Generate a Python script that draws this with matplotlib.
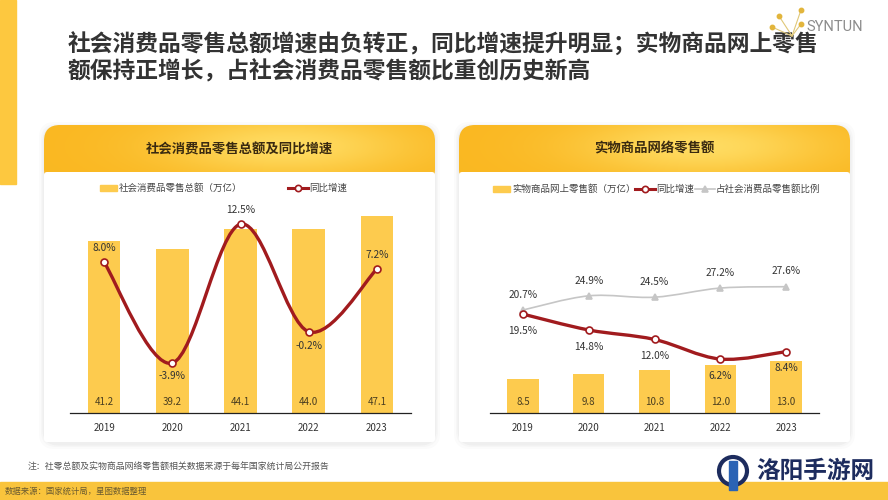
"""
plot.py — retail sales overview: two cards, bars + smoothed growth lines.
Everything on the page is laid out in pixel units on a background axes,
the two charts sit in their own axes on top.
"""

import numpy as np
import matplotlib.pyplot as plt
from matplotlib.patches import FancyBboxPatch, Rectangle, Circle, PathPatch
from matplotlib.path import Path
from matplotlib.lines import Line2D

plt.rcParams['font.family'] = ['Noto Sans CJK SC', 'DejaVu Sans']

# --- data -------------------------------------------------------------------
years = ['2019', '2020', '2021', '2022', '2023']

retail_total = [41.2, 39.2, 44.1, 44.0, 47.1]      # 万亿
retail_growth = [8.0, -3.9, 12.5, -0.2, 7.2]        # %

online_sales = [8.5, 9.8, 10.8, 12.0, 13.0]         # 万亿
online_growth = [19.5, 14.8, 12.0, 6.2, 8.4]        # %
online_share = [20.7, 24.9, 24.5, 27.2, 27.6]       # %

title_lines = ['社会消费品零售总额增速由负转正，同比增速提升明显；实物商品网上零售',
               '额保持正增长，占社会消费品零售额比重创历史新高']
left_title = '社会消费品零售总额及同比增速'
right_title = '实物商品网络零售额'
note = '注：社零总额及实物商品网络零售额相关数据来源于每年国家统计局公开报告'
source = '数据来源：国家统计局，星图数据整理'

# --- colours ----------------------------------------------------------------
BAR = '#FDCB4E'
RED = '#A11B1E'
GREY = '#C6C6C6'
TEXT = '#333333'

W, H = 888, 500
fig = plt.figure(figsize=(W / 100, H / 100), dpi=100)
fig.patch.set_facecolor('white')

bg = fig.add_axes([0, 0, 1, 1])
bg.set_xlim(0, W)
bg.set_ylim(H, 0)
bg.axis('off')


def px_axes(x0, y0, x1, y1):
    """Axes placed by pixel box (y measured from the top)."""
    a = fig.add_axes([x0 / W, 1 - y1 / H, (x1 - x0) / W, (y1 - y0) / H])
    a.patch.set_alpha(0)
    return a


def smooth_path(xs, ys, k=1 / 6):
    """Cubic bezier through the points (Catmull-Rom style control points)."""
    n = len(xs)
    verts = [(xs[0], ys[0])]
    codes = [Path.MOVETO]
    for i in range(n - 1):
        a = i - 1 if i > 0 else i
        b = i + 2 if i + 2 < n else i + 1
        c1 = (xs[i] + (xs[i + 1] - xs[a]) * k, ys[i] + (ys[i + 1] - ys[a]) * k)
        c2 = (xs[i + 1] - (xs[b] - xs[i]) * k, ys[i + 1] - (ys[b] - ys[i]) * k)
        verts += [c1, c2, (xs[i + 1], ys[i + 1])]
        codes += [Path.CURVE4] * 3
    return Path(verts, codes)


# ── page decoration ─────────────────────────────────────────────────────────
bg.add_patch(Rectangle((0, 0), 16, 184, color='#FDC83F', zorder=1))

for i, line in enumerate(title_lines):
    bg.text(68, 45 + i * 27, line, fontsize=16.4, fontweight='bold',
            color=TEXT, va='center', ha='left', zorder=3)

# SYNTUN mark
for (x0, y0) in [(779, 16), (801, 10), (801, 24), (772, 27)]:
    bg.plot([x0, 792], [y0, 36], color='#E0C878', lw=0.8, zorder=4)
    bg.plot(x0, y0, 'o', ms=3.2, color='#E2B53C', zorder=5)
bg.text(806, 27, 'SYNTUN', fontsize=10.5, color='#8C8C8C', va='center',
        ha='left', family=['Roboto', 'DejaVu Sans'], zorder=5)

# bottom note + source band
bg.text(28, 467, note, fontsize=6.4, color='#555555', va='center', style='italic')
bg.add_patch(Rectangle((0, 482), W, 18, color='#F9C43C', zorder=1))
bg.text(5, 491, source, fontsize=6, color='#6A5A30', va='center', zorder=2)

# watermark bottom right
bg.add_patch(Circle((733, 471), 14, fill=False, ec='#1D2C5E', lw=3, zorder=6))
bg.add_patch(Rectangle((729, 461), 8, 29, color='#2A63B5', zorder=6))
bg.text(756, 471, '洛阳手游网', fontsize=17, fontweight='bold', color='#1D2C5E',
        va='center', ha='left', zorder=6)


# ── cards ───────────────────────────────────────────────────────────────────
yy, xx = np.mgrid[0:1:60j, 0:1:200j]
glow = np.exp(-((xx - 0.62) ** 2) / 0.10 - ((yy - 0.35) ** 2) / 0.25)
light = np.array([1.0, 0.86, 0.38])
dark = np.array([0.98, 0.72, 0.13])
grad = dark + (light - dark) * glow[..., None]


def card(x0, x1, title):
    y0, y1, yh = 125, 442, 172
    w = x1 - x0
    # soft shadow
    for pad, al in [(5, 0.04), (3, 0.05), (1.5, 0.07)]:
        bg.add_patch(FancyBboxPatch((x0 - pad, y0 - pad + 2), w + 2 * pad,
                                    y1 - y0 + 2 * pad,
                                    boxstyle='round,pad=0,rounding_size=16',
                                    fc='#9A9A9A', ec='none', alpha=al, zorder=1))
    head = FancyBboxPatch((x0, y0), w, 60, boxstyle='round,pad=0,rounding_size=16',
                          fc='none', ec='none', zorder=2)
    bg.add_patch(head)
    im = bg.imshow(grad, extent=(x0, x1, y0 + 60, y0), aspect='auto', zorder=2)
    im.set_clip_path(head)
    bg.add_patch(FancyBboxPatch((x0, yh), w, y1 - yh,
                                boxstyle='round,pad=0,rounding_size=3',
                                fc='white', ec='none', zorder=3))
    bg.text((x0 + x1) / 2, 149, title, fontsize=9.6, fontweight='bold',
            color='#3A2A10', ha='center', va='center', zorder=4)


card(44, 435, left_title)
card(459, 850, right_title)
bg.set_xlim(0, W)
bg.set_ylim(H, 0)


# ── legends (pixel positions) ───────────────────────────────────────────────
def legend_bar(x, y, label):
    bg.add_patch(Rectangle((x, y - 3), 17, 6, color=BAR, zorder=5))
    bg.text(x + 19, y, label, fontsize=6.8, color='#444444', va='center', zorder=5)


def legend_line(x, y, label, color, marker, mfc, lw):
    bg.add_line(Line2D([x, x + 20], [y, y], color=color, lw=lw, zorder=5))
    bg.add_line(Line2D([x + 10], [y], marker=marker, ms=4.5, mfc=mfc,
                       mec=color, mew=1.2, color=color, zorder=6))
    bg.text(x + 21, y, label, fontsize=6.8, color='#444444', va='center', zorder=5)


legend_bar(100, 188, '社会消费品零售总额（万亿）')
legend_line(288, 188, '同比增速', RED, 'o', 'white', 2.2)

legend_bar(493, 189, '实物商品网上零售额（万亿）')
legend_line(635, 189, '同比增速', RED, 'o', 'white', 2.2)
legend_line(695, 189, '占社会消费品零售额比例', GREY, '^', GREY, 1.2)


# ── chart helpers ───────────────────────────────────────────────────────────
def base_axes(box, bar_top, values):
    ax = px_axes(*box)
    x = np.arange(len(years))
    ax.bar(x, values, width=0.48, color=BAR, zorder=2)
    ax.set_xlim(-0.5, 4.5)
    ax.set_ylim(0, bar_top)
    ax.set_xticks(x)
    ax.set_xticklabels(years, fontsize=7, color=TEXT)
    ax.tick_params(axis='x', length=0, pad=7)
    ax.set_yticks([])
    for s in ['top', 'left', 'right']:
        ax.spines[s].set_visible(False)
    ax.spines['bottom'].set_color('#222222')
    ax.spines['bottom'].set_linewidth(0.9)
    for xi, v in zip(x, values):
        ax.annotate(f'{v:.1f}', (xi, 0), xytext=(0, 8), textcoords='offset points',
                    ha='center', va='center', fontsize=7, color='#4A3E20')
    return ax, x


def twin(ax, lo, hi):
    t = ax.twinx()
    t.set_ylim(lo, hi)
    t.set_yticks([])
    for s in t.spines.values():
        s.set_visible(False)
    t.patch.set_alpha(0)
    return t


def growth_line(t, x, vals, color, lw, marker, mfc, ms, offsets):
    t.add_patch(PathPatch(smooth_path(list(x), list(vals)), fill=False,
                          ec=color, lw=lw, capstyle='round', zorder=3))
    t.plot(x, vals, ls='none', marker=marker, ms=ms, mfc=mfc, mec=color,
           mew=1.2, zorder=4)
    for xi, v, dy in zip(x, vals, offsets):
        t.annotate(f'{v:.1f}%', (xi, v), xytext=(0, dy), textcoords='offset points',
                   ha='center', va='center', fontsize=7.3, color=TEXT)


# ── left chart ──────────────────────────────────────────────────────────────
axl, xl = base_axes((70, 200, 411, 413), 50.96, retail_total)
tl = twin(axl, -9.8, 15.35)
growth_line(tl, xl, retail_growth, RED, 2.4, 'o', 'white', 5,
            [10, -9.5, 10, -10, 10])

# ── right chart ─────────────────────────────────────────────────────────────
axr, xr = base_axes((490, 250, 819, 413), 40.75, online_sales)
tr = twin(axr, -9.76, 38.46)
growth_line(tr, xr, online_share, GREY, 1.2, '^', GREY, 4.5, [11] * 5)
growth_line(tr, xr, online_growth, RED, 2.4, 'o', 'white', 5, [-12] * 5)

fig.savefig('out.png', dpi=100)
